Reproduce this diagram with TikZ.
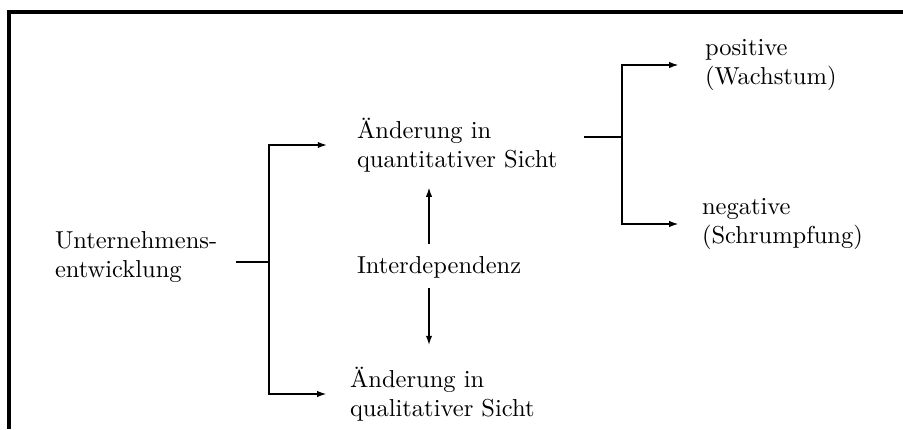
\documentclass[tikz,border=0pt]{standalone}
\usepackage{tikz}
\usetikzlibrary{positioning, arrows.meta, calc}

\begin{document}
\begin{tikzpicture}[x=0.408pt, y=-0.408pt,
    txt/.style={align=left, anchor=west, inner sep=0pt, outer sep=0pt},
    line/.style={line width=0.85pt},
    arr/.style={line, -{Latex[length=4pt, width=2.6pt]}}]
    \useasboundingbox (0,0) rectangle (903,429);
    \draw[line width=1.3pt] (9,429) -- (9,12) -- (903,12);

    \node[txt] (unt) at (55,257) {Unternehmens-\\entwicklung};
    \node[txt] (quan) at (357,145) {\"Anderung in\\quantitativer Sicht};
    \node[txt] (inter) at (357,267) {Interdependenz};
    \node[txt] (qual) at (350,394) {\"Anderung in\\qualitativer Sicht};
    \node[txt] (pos) at (705,65) {positive\\(Wachstum)};
    \node[txt] (neg) at (702,224) {negative\\(Schrumpfung)};

    \coordinate (j1) at (269,262);
    \coordinate (j2) at (622,137);
    \coordinate (ax) at (429,267);

    \draw[line, shorten <=7.8pt] (unt.east |- j1) -- (j1);
    \draw[arr, shorten >=12pt] (j1) |- (quan.west);
    \draw[arr, shorten >=9.4pt] (j1) |- (qual.west);
    \draw[arr, shorten <=5pt, shorten >=6pt] (ax |- inter.north) -- (ax |- quan.south);
    \draw[arr, shorten <=4pt, shorten >=8.6pt] (ax |- inter.south) -- (ax |- qual.north);
    \draw[line, shorten <=11pt] (quan.east |- j2) -- (j2);
    \draw[arr, shorten >=10.6pt] (j2) |- (pos.west);
    \draw[arr, shorten >=9.4pt] (j2) |- (neg.west);
\end{tikzpicture}
\end{document}
